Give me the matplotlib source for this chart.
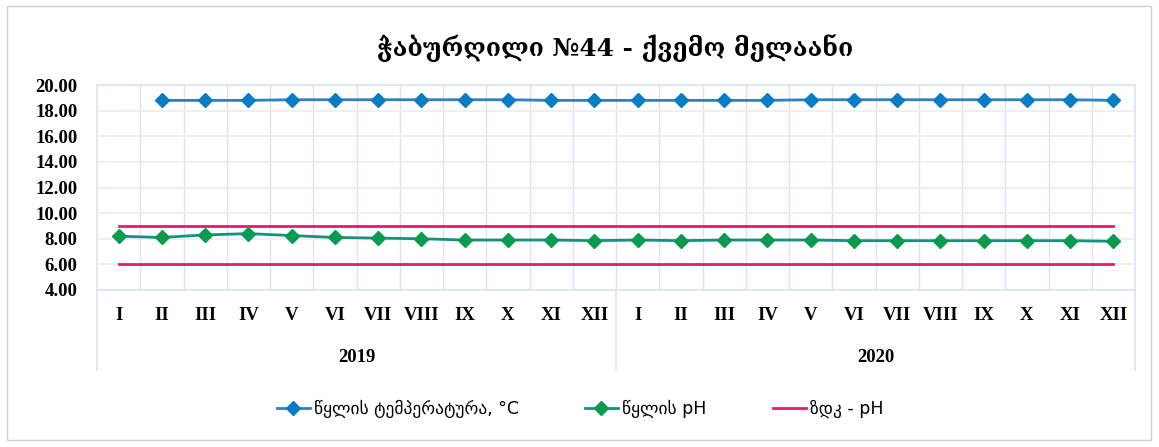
import matplotlib
matplotlib.use("Agg")
import matplotlib.pyplot as plt
from matplotlib.patches import Rectangle
import numpy as np

months = ["I", "II", "III", "IV", "V", "VI", "VII", "VIII", "IX", "X", "XI", "XII"]
years = ["2019", "2020"]
categories = months + months

temperature = [np.nan, 18.8, 18.8, 18.8, 18.85, 18.85, 18.85, 18.85, 18.85, 18.85, 18.8, 18.8,
               18.8, 18.8, 18.8, 18.8, 18.85, 18.85, 18.85, 18.85, 18.85, 18.85, 18.85, 18.8]
ph = [8.2, 8.1, 8.3, 8.4, 8.25, 8.1, 8.05, 8.0, 7.9, 7.9, 7.9, 7.85,
      7.9, 7.85, 7.9, 7.9, 7.9, 7.85, 7.85, 7.85, 7.85, 7.85, 7.85, 7.8]
ph_limit_low = [6.0] * 24
ph_limit_high = [9.0] * 24

title = "ჭაბურღილი №44 - ქვემო მელაანი"
label_temp = "წყლის ტემპერატურა, °C"
label_ph = "წყლის pH"
label_limit = "ზდკ - pH"

W, H = 1159, 447
fig = plt.figure(figsize=(W / 100, H / 100), dpi=100)
fig.patch.set_facecolor("white")
fig.add_artist(Rectangle((7 / W, 1 - 440 / H), (1151 - 7) / W, (440 - 6) / H,
                         transform=fig.transFigure, fill=False, edgecolor="#d0d0d0", lw=1))

left, right, top, bottom = 97, 1135, 85, 290
ax = fig.add_axes([left / W, 1 - bottom / H, (right - left) / W, (bottom - top) / H])

x = np.arange(len(categories))
grid_blue = "#dae3f3"
tick_font = dict(fontfamily="Liberation Serif", fontweight="bold", fontsize=13.5)

ax.plot(x, temperature, color="#2f7fc8", lw=2, marker="D", markersize=7,
        markerfacecolor="#0a7cc4", markeredgecolor="#0a7cc4", label=label_temp, zorder=4)
ax.plot(x, ph, color="#16907f", lw=2, marker="D", markersize=7,
        markerfacecolor="#0a9a50", markeredgecolor="#0a9a50", label=label_ph, zorder=4)
ax.plot(x, ph_limit_high, color="#e8196a", lw=2, label=label_limit, zorder=3)
ax.plot(x, ph_limit_low, color="#e8196a", lw=2, zorder=3)

ax.set_xlim(-0.5, len(categories) - 0.5)
ax.set_ylim(4, 20)
yt = np.arange(4, 20.1, 2)
ax.set_yticks(yt)
ax.set_yticklabels([f"{v:.2f}" for v in yt], **tick_font)

ax.set_xticks(x)
ax.set_xticklabels(categories, **tick_font)
ax.tick_params(axis="x", length=0, pad=12)
ax.tick_params(axis="y", length=0, pad=14)

ax.grid(axis="y", color="#ececec", lw=1.2)
for b in np.arange(0.5, len(categories) - 1, 1):
    ax.axvline(b, color=grid_blue, lw=1, zorder=0)
ax.set_axisbelow(True)
for s in ax.spines.values():
    s.set_color(grid_blue)
    s.set_linewidth(1.2)

tr = ax.get_xaxis_transform()
for xb in [-0.5, 11.5, 23.5]:
    ax.plot([xb, xb], [0, -80 / (bottom - top)], transform=tr, color=grid_blue, lw=1.2, clip_on=False)
for i, yr in enumerate(years):
    ax.text(5.5 + 12 * i, -67 / (bottom - top), yr, transform=tr, ha="center", va="center",
            **tick_font)

fig.text(615 / W, 1 - 48 / H, title, ha="center", va="center", fontsize=17.8, fontweight="bold",
         family=["DejaVu Serif", "DejaVu Sans"])

leg = fig.legend(loc="center", bbox_to_anchor=(580 / W, 1 - 409 / H), ncol=3, frameon=False,
                 prop={"family": ["DejaVu Sans"], "size": 12.5}, columnspacing=3.8,
                 handlelength=1.9, handletextpad=0.25)

fig.savefig("out.png", dpi=100)
